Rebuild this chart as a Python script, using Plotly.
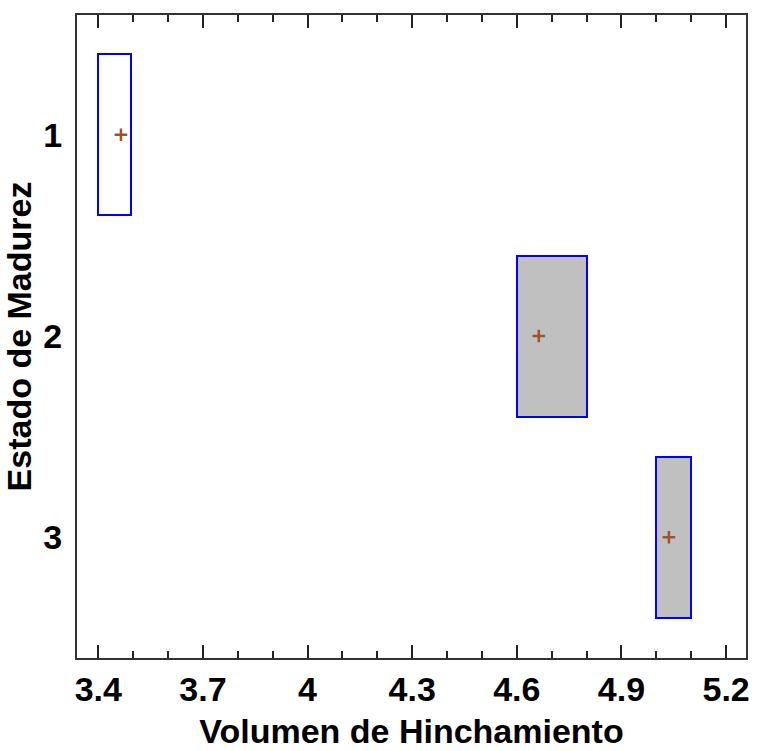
import plotly.graph_objects as go

# Data
estados = [1, 2, 3]
box_low = [3.40, 4.60, 5.00]
box_high = [3.495, 4.80, 5.10]
medias = [3.465, 4.663, 5.036]
box_fill = ["#FFFFFF", "#C0C0C0", "#C0C0C0"]
x_tickvals = [3.4, 3.7, 4.0, 4.3, 4.6, 4.9, 5.2]
x_ticktext = ["3.4", "3.7", "4", "4.3", "4.6", "4.9", "5.2"]
y_ticktext = ["1", "2", "3"]

FONT = "Liberation Sans, Arial, sans-serif"

fig = go.Figure()
fig.add_trace(go.Bar(
    y=estados,
    x=[h - l for l, h in zip(box_low, box_high)],
    base=box_low,
    orientation="h",
    width=0.8,
    marker=dict(color=box_fill, line=dict(color="#0000FF", width=2)),
    showlegend=False,
    hoverinfo="skip",
))
fig.add_trace(go.Scatter(
    x=medias, y=estados, mode="markers",
    marker=dict(symbol="cross-thin", size=9,
                line=dict(color="#A0522D", width=2.5), color="#A0522D"),
    showlegend=False,
))

fig.update_layout(
    width=757, height=751,
    margin=dict(l=77, r=7, t=15, b=91),
    paper_bgcolor="white", plot_bgcolor="white",
    bargap=0,
    font=dict(family=FONT, color="black"),
    xaxis=dict(
        range=[3.339, 5.257],
        tickvals=x_tickvals, ticktext=x_ticktext,
        ticks="inside", ticklen=13, tickwidth=2, tickcolor="#222",
        minor=dict(dtick=0.1, tick0=3.4, ticks="inside", ticklen=7,
                   tickwidth=2, tickcolor="#222", showgrid=False),
        showgrid=False, zeroline=False,
        showline=True, linecolor="#333", linewidth=2, mirror="ticks",
        tickfont=dict(family=FONT, size=34, weight="bold", color="black"),
        title=dict(text="Volumen de Hinchamiento", standoff=12,
                   font=dict(family=FONT, size=34, weight="bold", color="black")),
    ),
    yaxis=dict(
        range=[3.6, 0.405],
        tickvals=estados, ticktext=y_ticktext,
        ticks="", showgrid=False, zeroline=False,
        showline=True, linecolor="#333", linewidth=2, mirror=True,
        ticklabelstandoff=6,
        tickfont=dict(family=FONT, size=34, weight="bold", color="black"),
        title=dict(text="Estado de Madurez", standoff=10,
                   font=dict(family=FONT, size=34, weight="bold", color="black")),
    ),
)

fig.write_html("out.html")
